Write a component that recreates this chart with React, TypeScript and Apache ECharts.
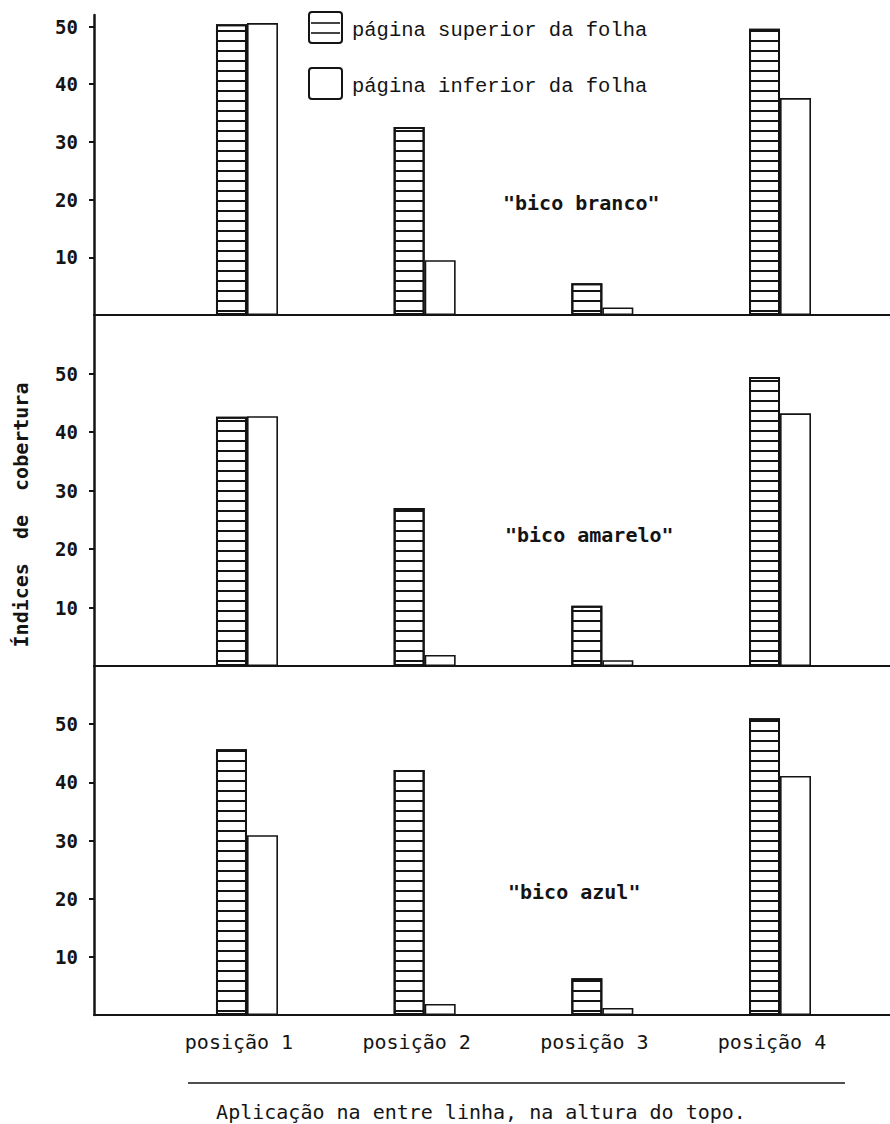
import React, { useEffect, useRef } from "react";
import * as echarts from "echarts";

const positions = ["posição 1", "posição 2", "posição 3", "posição 4"];
const positionX = [1, 2, 3, 4];
const panelNames = ['"bico branco"', '"bico amarelo"', '"bico azul"'];
const brancoSuperior = [50.4, 32.6, 5.5, 49.6];
const brancoInferior = [50.6, 9.5, 1.3, 37.6];
const amareloSuperior = [42.6, 27.0, 10.3, 49.4];
const amareloInferior = [42.7, 1.9, 1.0, 43.2];
const azulSuperior = [45.7, 42.1, 6.3, 51.0];
const azulInferior = [30.9, 1.9, 1.2, 41.1];
const yTicks = [10, 20, 30, 40, 50];
const panelMax = [52, 60, 60];
const legendLabels = ["página superior da folha", "página inferior da folha"];
const yTitle = "Índices  de  cobertura";
const caption = "Aplicação na entre linha, na altura do topo.";

const INK = "#141414";
const MONO = '"DejaVu Sans Mono", "Liberation Mono", monospace';
const TYPE = '"Liberation Mono", "DejaVu Sans Mono", monospace';

export default function App() {
  const ref = useRef<HTMLDivElement>(null);

  useEffect(() => {
    if (!ref.current) return;
    const chart = echarts.init(ref.current, undefined, { renderer: "svg" });

    const superior = [brancoSuperior, amareloSuperior, azulSuperior];
    const inferior = [brancoInferior, amareloInferior, azulInferior];
    const grids = [
      { left: 94, right: 0, top: 15, height: 300 },
      { left: 94, right: 0, top: 315, height: 351 },
      { left: 94, right: 0, top: 666, height: 349 },
    ];

    const xAxes = grids.map((_, i) => ({
      type: "value",
      gridIndex: i,
      min: 0.139,
      max: 4.619,
      splitLine: { show: false },
      axisTick: { show: false },
      axisLine: { show: true, onZero: false, lineStyle: { color: INK, width: 1.8 } },
      axisLabel: {
        show: i === 2,
        customValues: positionX,
        margin: 17,
        padding: [0, 16, 0, 0],
        formatter: (v: number) => positions[positionX.indexOf(Math.round(v))] ?? "",
        color: INK,
        fontFamily: MONO,
        fontSize: 20,
      },
    }));

    const yAxes = grids.map((_, i) => ({
      type: "value",
      gridIndex: i,
      min: 0,
      max: panelMax[i],
      splitLine: { show: false },
      axisLine: { show: true, lineStyle: { color: INK, width: 2.5 } },
      axisTick: { show: true, length: 5, customValues: yTicks, lineStyle: { color: INK, width: 2 } },
      axisLabel: {
        customValues: yTicks,
        margin: 16,
        color: INK,
        fontFamily: MONO,
        fontWeight: "bold",
        fontSize: 19,
      },
    }));

    const series: any[] = [];
    for (let i = 0; i < 3; i++) {
      series.push({
        type: "bar",
        name: legendLabels[0],
        xAxisIndex: i,
        yAxisIndex: i,
        barWidth: 31,
        barGap: "0%",
        data: positionX.map((x, j) => [x, superior[i][j]]),
        itemStyle: {
          color: "#fff",
          borderColor: INK,
          borderWidth: 2,
          decal: {
            symbol: "rect",
            symbolSize: 1,
            color: INK,
            backgroundColor: "#fff",
            dashArrayX: [1, 0],
            dashArrayY: [2, 8],
            rotation: 0,
          },
        },
      });
      series.push({
        type: "bar",
        name: legendLabels[1],
        xAxisIndex: i,
        yAxisIndex: i,
        barWidth: 31,
        barGap: "0%",
        data: positionX.map((x, j) => [x, inferior[i][j]]),
        itemStyle: { color: "#fff", borderColor: INK, borderWidth: 1.6 },
      });
    }

    const txt = (text: string, x: number, y: number, extra: any = {}) => ({
      type: "text",
      x,
      y,
      ...extra.el,
      style: {
        text,
        x: 0,
        y: 0,
        fill: INK,
        fontFamily: TYPE,
        fontSize: 20.5,
        verticalAlign: "middle",
        align: "left",
        ...extra.style,
      },
    });

    const bold = { fontFamily: MONO, fontWeight: "bold", fontSize: 20 };

    const graphic: any[] = [
      { type: "rect", shape: { x: 309, y: 12, width: 33, height: 31, r: 3 }, style: { fill: "#fff", stroke: INK, lineWidth: 2 } },
      { type: "line", shape: { x1: 311, y1: 23, x2: 340, y2: 23 }, style: { stroke: INK, lineWidth: 1.6 } },
      { type: "line", shape: { x1: 311, y1: 33, x2: 340, y2: 33 }, style: { stroke: INK, lineWidth: 1.6 } },
      { type: "rect", shape: { x: 309, y: 68, width: 33, height: 31, r: 3 }, style: { fill: "#fff", stroke: INK, lineWidth: 2 } },
      txt(legendLabels[0], 352, 30),
      txt(legendLabels[1], 352, 86),
      txt(panelNames[0], 503, 203, { style: bold }),
      txt(panelNames[1], 505, 535, { style: bold }),
      txt(panelNames[2], 508, 892, { style: bold }),
      txt(yTitle, 21, 515, {
        el: { rotation: Math.PI / 2 },
        style: { ...bold, align: "center" },
      }),
      { type: "line", shape: { x1: 188, y1: 1083, x2: 845, y2: 1083 }, style: { stroke: INK, lineWidth: 1.6 } },
      txt(caption, 481, 1112, { style: { fontFamily: MONO, fontSize: 20, align: "center" } }),
    ];

    chart.setOption({
      animation: false,
      backgroundColor: "#fff",
      grid: grids,
      xAxis: xAxes,
      yAxis: yAxes,
      series,
      graphic,
    });

    return () => chart.dispose();
  }, []);

  return (
    <div
      ref={ref}
      style={{ position: "absolute", left: 0, top: 0, width: 890, height: 1124, background: "#fff" }}
    />
  );
}
